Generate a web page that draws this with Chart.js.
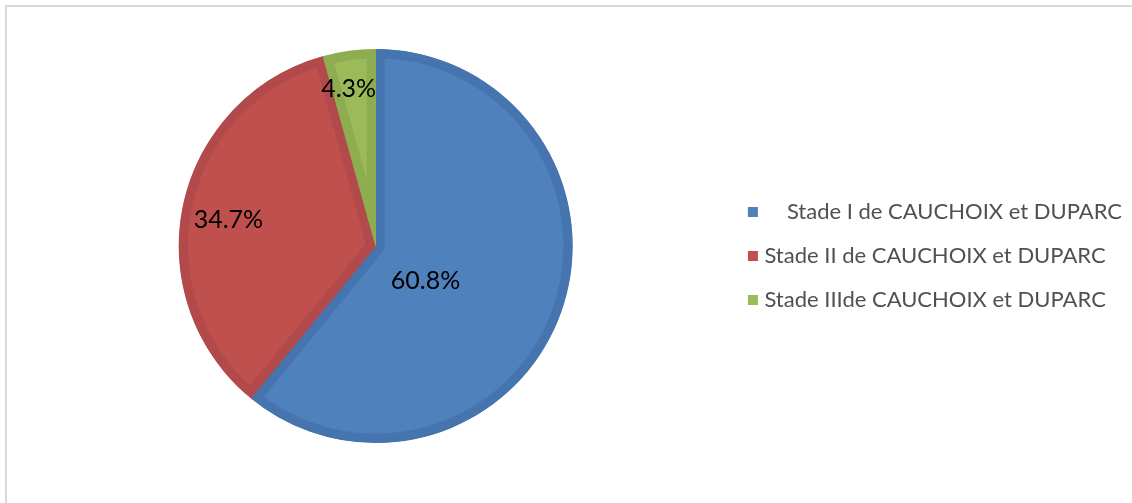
<!DOCTYPE html>
<html>
<head>
<meta charset="utf-8">
<script src="https://cdn.jsdelivr.net/npm/chart.js@4"></script>
<style>
  html, body { margin: 0; padding: 0; background: #fff; }
  #wrap { position: relative; width: 1132px; height: 503px; }
  #frame { position: absolute; left: 5px; top: 5px; right: 0; bottom: 0;
           border-left: 2px solid #d9d9d9; border-top: 2px solid #d9d9d9; }
  canvas { position: absolute; left: 0; top: 0; }
</style>
</head>
<body>
<div id="wrap">
  <div id="frame"></div>
  <canvas id="stadeChart" width="1132" height="503"></canvas>
</div>
<script>
const categories = [
  'Stade I de CAUCHOIX et DUPARC',
  'Stade II de CAUCHOIX et DUPARC',
  'Stade IIIde CAUCHOIX et DUPARC'
];
const percentages = [60.8, 34.7, 4.3];

const fillColors = ['#4f81bd', '#c0504d', '#9bbb59'];
const edgeColors = ['#4674ae', '#b2494a', '#8ead51'];

// where each percentage sits: fraction of the radius, angle nudge in degrees
const labelSpots = [
  { r: 0.31, nudge: 15.6 },
  { r: 0.76, nudge: -1.7 },
  { r: 0.81, nudge: -2.0 }
];

const sliceLabels = {
  id: 'sliceLabels',
  afterDatasetsDraw(chart) {
    const ctx = chart.ctx;
    const meta = chart.getDatasetMeta(0);
    ctx.save();
    ctx.font = '25px Lato';
    ctx.fillStyle = '#000';
    ctx.textAlign = 'center';
    ctx.textBaseline = 'middle';
    meta.data.forEach((arc, i) => {
      const p = arc.getProps(['x', 'y', 'startAngle', 'endAngle', 'outerRadius'], true);
      const spot = labelSpots[i];
      const a = (p.startAngle + p.endAngle) / 2 + spot.nudge * Math.PI / 180;
      const r = p.outerRadius * spot.r;
      ctx.fillText(percentages[i].toFixed(1) + '%', p.x + Math.cos(a) * r, p.y + Math.sin(a) * r);
    });
    ctx.restore();
  }
};

const ctx = document.getElementById('stadeChart').getContext('2d');

new Chart(ctx, {
  type: 'pie',
  data: {
    labels: categories,
    datasets: [{
      data: percentages,
      backgroundColor: fillColors,
      borderColor: edgeColors,
      borderWidth: 9,
      borderAlign: 'inner'
    }]
  },
  options: {
    responsive: false,
    animation: false,
    layout: { padding: { left: 21, top: 49, bottom: 60, right: 0 } },
    plugins: {
      tooltip: { enabled: false },
      legend: {
        position: 'right',
        align: 'center',
        title: { display: true, text: '', font: { size: 10 }, padding: { top: 8, bottom: 0 } },
        labels: {
          font: { family: 'Lato', size: 22 },
          color: '#505050',
          usePointStyle: true,
          pointStyle: 'rect',
          boxWidth: 1,
          boxHeight: 10,
          padding: 22,
          generateLabels(chart) {
            const items = Chart.overrides.pie.plugins.legend.labels.generateLabels(chart);
            return items.map((item, i) => ({
              ...item,
              // first entry carries a wider gap after its marker
              text: (i === 0 ? '    ' : '') + item.text,
              pointStyle: 'rect',
              fillStyle: fillColors[i],
              strokeStyle: fillColors[i],
              lineWidth: 0
            }));
          }
        }
      }
    }
  },
  plugins: [sliceLabels]
});
</script>
</body>
</html>
